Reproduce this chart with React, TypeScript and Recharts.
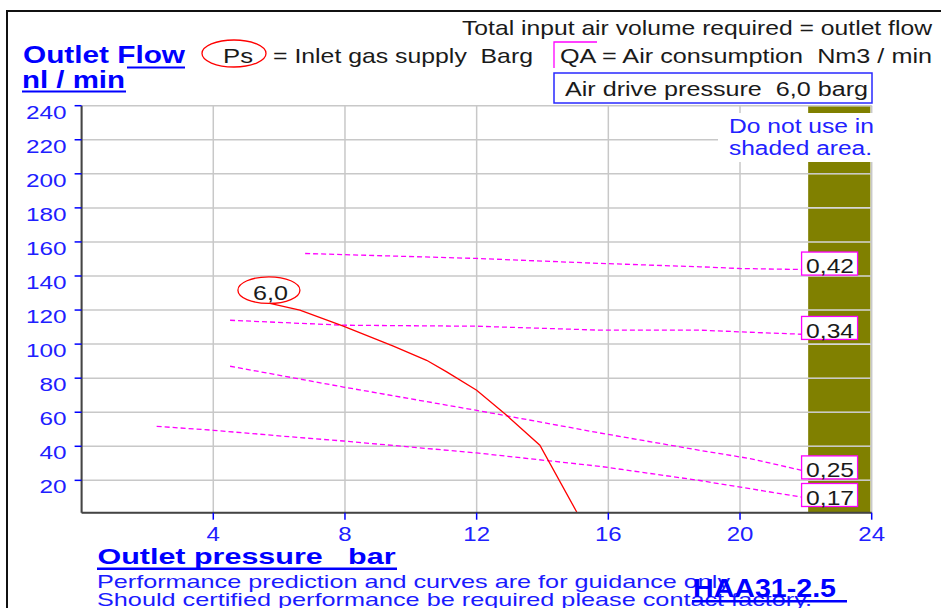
import React from 'react';
import { LineChart, Line, XAxis, YAxis, CartesianGrid, ReferenceArea, ReferenceDot } from 'recharts';

const FONT = '"Liberation Sans", Arial, Helvetica, sans-serif';
const BLUE = '#0000ff';
const TICKBLUE = '#2020ff';
const MAGENTA = '#ff00ff';
const DARK = '#1a1a1a';
const GRID = '#c8c8c8';

const xTicks = [4, 8, 12, 16, 20, 24];
const yTicks = [20, 40, 60, 80, 100, 120, 140, 160, 180, 200, 220, 240];

// Ps = 6,0 barg inlet supply curve
const ps60X = [5.72, 6.63, 7.95, 9.47, 10.48, 11.09, 12.0, 12.91, 13.92, 15.04];
const ps60Y = [123.9, 119.9, 110.5, 98.8, 90.5, 83.7, 72.9, 58.2, 40.6, 1.4];

// QA air consumption lines
const qa042X = [6.79, 12.0, 15.75, 18.78, 20.0, 21.87];
const qa042Y = [153.2, 150.3, 147.4, 145.4, 144.4, 143.8];
const qa034X = [4.51, 7.95, 12.0, 15.75, 18.78, 20.0, 21.87];
const qa034Y = [114, 111.1, 110.5, 108.2, 108.2, 107.2, 105.8];
const qa025X = [4.51, 7.95, 12.0, 15.75, 18.78, 20.3, 21.87];
const qa025Y = [87, 74.8, 61.1, 47.8, 37.6, 32.8, 25.9];
const qa017X = [2.28, 4.0, 6.63, 7.95, 12.0, 15.75, 18.78, 20.3, 21.87];
const qa017Y = [51.7, 49.4, 45.1, 43.1, 36.1, 28.2, 19.9, 15.1, 10.2];

const qaLabels = ['0,42', '0,34', '0,25', '0,17'];
const qaLabelX = 21.87;
const qaLabelY = [147.3, 109.5, 27.6, 11.4];

const psLabel = '6,0';
const psLabelX = 5.69;
const psLabelY = 131.7;

const shadedFrom = 22.07;
const shadedTo = 24;
const yMin = 1;
const yMax = 240;

const zip = (xs: number[], ys: number[]) => xs.map((x, i) => ({ x, y: ys[i] }));
const ps60 = zip(ps60X, ps60Y);
const qaSeries = [zip(qa042X, qa042Y), zip(qa034X, qa034Y), zip(qa025X, qa025Y), zip(qa017X, qa017Y)];

// the shaded zone is drawn band by band so the grid lines stay visible through it
const GAP = 0.45;
const bandEdges = [yMin, ...yTicks];
const shadeBands = bandEdges.slice(0, -1).map((lo, i) => ({
  y1: i === 0 ? lo : lo + GAP,
  y2: bandEdges[i + 1] - GAP,
}));

const T = ({ x, y, w, size = 19, weight = 'normal', fill = DARK, children }: any) => (
  <text
    x={x}
    y={y}
    fontSize={size}
    fontWeight={weight}
    fill={fill}
    fontFamily={FONT}
    textLength={w}
    lengthAdjust="spacingAndGlyphs"
    style={{ whiteSpace: 'pre' }}
  >
    {children}
  </text>
);

const YTick = (props: any) => {
  const { x, y, payload } = props;
  return (
    <g transform={`translate(${x},${y + 12.8}) scale(1.28,1)`}>
      <text x={0} y={0} textAnchor="end" fontSize={19} fill={TICKBLUE} fontFamily={FONT}>
        {payload.value}
      </text>
    </g>
  );
};

const XTick = (props: any) => {
  const { x, y, payload } = props;
  return (
    <g transform={`translate(${x},${y + 21}) scale(1.2,1)`}>
      <text x={0} y={0} textAnchor="middle" fontSize={20} fill={TICKBLUE} fontFamily={FONT}>
        {payload.value}
      </text>
    </g>
  );
};

const qaLabelShape = (label: string) => (props: any) => {
  const { cx, cy } = props;
  return (
    <g>
      <rect x={cx} y={cy - 11.5} width={56} height={23} fill="#fff" stroke={MAGENTA} strokeWidth={1.3} />
      <T x={cx + 4.5} y={cy + 9.8} w={48} size={21}>{label}</T>
    </g>
  );
};

const psLabelShape = (props: any) => {
  const { cx, cy } = props;
  return (
    <g>
      <ellipse cx={cx} cy={cy} rx={31} ry={13.3} fill="#fff" stroke="#ff0000" strokeWidth={1.3} />
      <T x={cx - 16} y={cy + 10} w={35} size={21}>{psLabel}</T>
    </g>
  );
};

const Overlay = () => (
  <svg width={941} height={608} style={{ position: 'absolute', left: 0, top: 0, pointerEvents: 'none' }}>
    {/* outer frame */}
    <path d="M7,608 L7,11 L941,11" fill="none" stroke="#111" strokeWidth={2} />

    {/* header */}
    <T x={462} y={35} w={470} size={21}>Total input air volume required = outlet flow</T>

    <T x={23} y={63.3} w={162} size={24} weight="bold" fill={BLUE}>Outlet Flow</T>
    <line x1={127} y1={67.5} x2={185} y2={67.5} stroke={BLUE} strokeWidth={2} />
    <T x={22} y={88.3} w={103} size={24} weight="bold" fill={BLUE}>nl / min</T>
    <line x1={22} y1={91.5} x2={126} y2={91.5} stroke={BLUE} strokeWidth={2.2} />

    <ellipse cx={234} cy={53.5} rx={32} ry={13.5} fill="none" stroke="#ff0000" strokeWidth={1.3} />
    <T x={223} y={63} w={30} size={21}>Ps</T>
    <T x={273} y={63} w={260} size={21}>= Inlet gas supply  Barg</T>

    <path d="M597,42 L554,42 L554,68" fill="none" stroke={MAGENTA} strokeWidth={1.3} />
    <T x={560} y={63} w={372} size={21}>QA = Air consumption  Nm3 / min</T>

    <rect x={554} y={73} width={318} height={30} fill="#fff" stroke="#2828ff" strokeWidth={1.5} />
    <T x={565} y={95.5} w={303} size={20}>Air drive pressure  6,0 barg</T>

    {/* shaded area note */}
    <rect x={718} y={113} width={162} height={49} fill="#fff" />
    <T x={729} y={133.3} w={145} size={20} fill="#2222ff">Do not use in</T>
    <T x={729} y={155} w={143} size={20} fill="#2222ff">shaded area.</T>

    {/* footer */}
    <T x={97.5} y={564.3} w={298} size={22} weight="bold" fill={BLUE}>Outlet pressure   bar</T>
    <line x1={97} y1={568.7} x2={397} y2={568.7} stroke={BLUE} strokeWidth={2.5} />
    <T x={97} y={587.8} w={633} size={19} fill="#1a1aff">Performance prediction and curves are for guidance only</T>
    <T x={97} y={605.7} w={715} size={19} fill="#1a1aff">Should certified performance be required please contact factory.</T>
    <T x={693} y={596.7} w={143} size={26} weight="bold" fill={BLUE}>HAA31-2.5</T>
    <line x1={692} y1={601.2} x2={847} y2={601.2} stroke={BLUE} strokeWidth={2.5} />
  </svg>
);

export default function App() {
  return (
    <div style={{ position: 'absolute', left: 0, top: 0, width: 941, height: 608, background: '#fff' }}>
      <LineChart
        width={941}
        height={608}
        margin={{ top: 105.7, right: 69.3, left: 21.6, bottom: 65.3 }}
      >
        <CartesianGrid stroke={GRID} strokeWidth={1.5} />
        {shadeBands.map((b, i) => (
          <ReferenceArea
            key={`band${i}`}
            x1={shadedFrom}
            x2={shadedTo - 0.04}
            y1={b.y1}
            y2={b.y2}
            fill="#808000"
            fillOpacity={1}
            stroke="none"
          />
        ))}
        <XAxis
          type="number"
          dataKey="x"
          domain={[0, 24]}
          ticks={xTicks}
          allowDataOverflow
          height={30}
          tickSize={7}
          tickMargin={0}
          axisLine={{ stroke: '#444', strokeWidth: 2 }}
          tickLine={{ stroke: BLUE, strokeWidth: 1.5 }}
          tick={<XTick />}
        />
        <YAxis
          type="number"
          domain={[yMin, yMax]}
          ticks={yTicks}
          allowDataOverflow
          width={60}
          tickSize={7}
          tickMargin={8}
          axisLine={{ stroke: '#444', strokeWidth: 2 }}
          tickLine={{ stroke: BLUE, strokeWidth: 1.5 }}
          tick={<YTick />}
        />
        {qaSeries.map((d, i) => (
          <Line
            key={qaLabels[i]}
            data={d}
            dataKey="y"
            type="linear"
            stroke={MAGENTA}
            strokeWidth={1.3}
            strokeDasharray="5 3"
            dot={false}
            activeDot={false}
            isAnimationActive={false}
          />
        ))}
        <Line
          data={ps60}
          dataKey="y"
          type="linear"
          stroke="#ff0000"
          strokeWidth={1.3}
          dot={false}
          activeDot={false}
          isAnimationActive={false}
        />
        {qaLabels.map((lab, i) => (
          <ReferenceDot key={lab} x={qaLabelX} y={qaLabelY[i]} r={1} shape={qaLabelShape(lab)} />
        ))}
        <ReferenceDot x={psLabelX} y={psLabelY} r={1} shape={psLabelShape} />
      </LineChart>
      <Overlay />
    </div>
  );
}
